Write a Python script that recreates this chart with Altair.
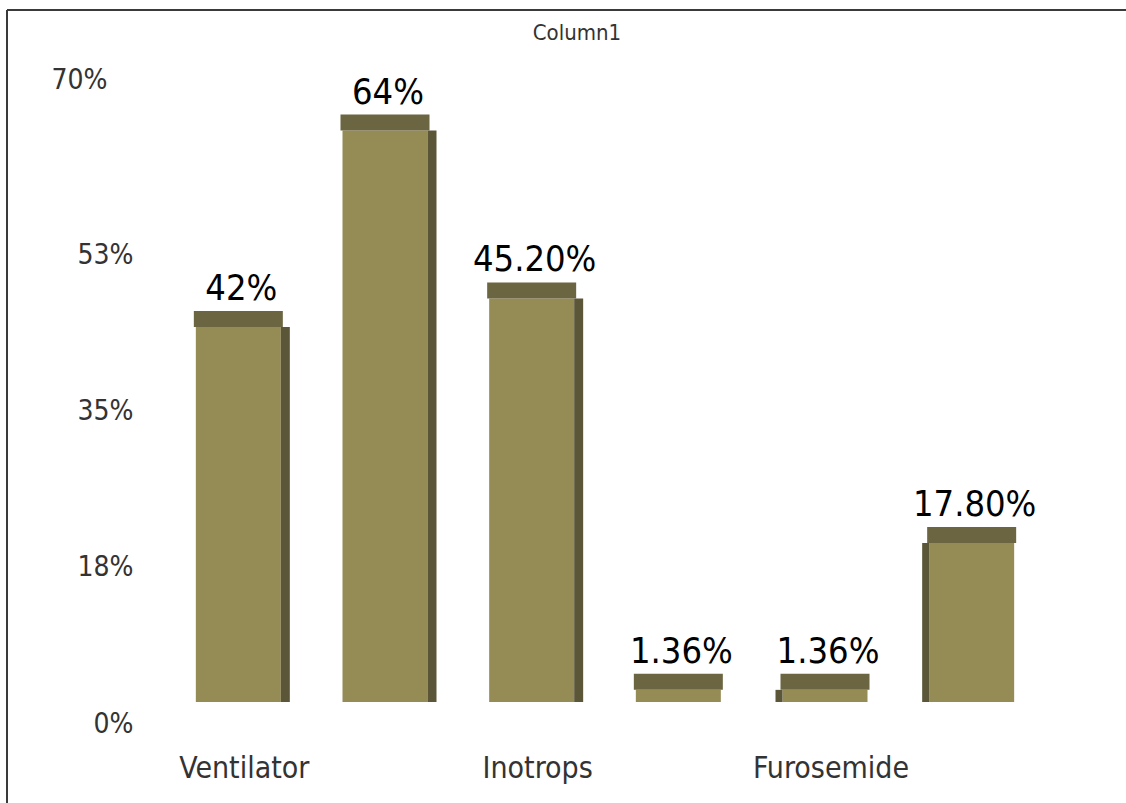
import altair as alt
import pandas as pd

categories = ["Ventilator", " ", "Inotrops", "  ", "Furosemide", "   "]
values = [42.0, 64.0, 45.2, 1.36, 1.36, 17.8]
value_labels = ["42%", "64%", "45.20%", "1.36%", "1.36%", "17.80%"]
y_ticks = [0, 17.5, 35, 52.5, 70]
title_text = "Column1"

df = pd.DataFrame({"category": categories, "value": values, "label": value_labels})

FONT = "DejaVu Sans Condensed, sans-serif"
FRONT = "#958b55"
TOP = "#6c6541"
SIDE = "#5c5639"

x_enc = alt.X(
    "category:N",
    sort=None,
    scale=alt.Scale(paddingInner=0.4, paddingOuter=0.2),
    axis=alt.Axis(
        title=None, labelAngle=0, domain=False, ticks=False,
        labelFont=FONT, labelFontSize=30, labelColor="#333333",
        labelPadding=51, labelOffset=6, labelLimit=0,
    ),
)
y_scale = alt.Scale(domain=[0, 70], nice=False, zero=True)
y_enc = alt.Y(
    "value:Q",
    scale=y_scale,
    axis=alt.Axis(
        title=None, values=y_ticks, domain=False, ticks=False, grid=False,
        labelExpr="format(datum.value, '.0f') + '%'",
        labelFont=FONT, labelFontSize=28, labelColor="#333333",
        labelOffset={"condition": {"test": "datum.value >= 60", "value": 3}, "value": 22},
        labelPadding={"condition": {"test": "datum.value >= 60", "value": 58}, "value": 32},
    ),
)

base = alt.Chart(df)

front = base.mark_bar(width=85, color=FRONT).encode(x=x_enc, y=y_enc, y2=alt.datum(0))

side_right = base.transform_filter(
    alt.FieldOneOfPredicate(field="category", oneOf=categories[:3])
).mark_bar(width=9, color=SIDE, xOffset=47).encode(x=x_enc, y=y_enc, y2=alt.datum(0))

side_left = base.transform_filter(
    alt.FieldOneOfPredicate(field="category", oneOf=categories[4:])
).mark_bar(width=7, color=SIDE, xOffset=-46).encode(x=x_enc, y=y_enc, y2=alt.datum(0))

top_face = base.mark_bar(width=89, color=TOP, y2Offset=-16).encode(
    x=x_enc, y=y_enc, y2=alt.Y2("value:Q")
)

labels = base.mark_text(
    font=FONT, fontSize=36, color="#000000", baseline="alphabetic", dy=-27, dx=3
).encode(x=x_enc, y=y_enc, text="label:N")

frame_top = alt.Chart(df).mark_rule(color="#3a3a3a", strokeWidth=2).encode(
    x=alt.value(-158), x2=alt.value(980), y=alt.value(-67)
)
frame_left = alt.Chart(df).mark_rule(color="#3a3a3a", strokeWidth=2).encode(
    x=alt.value(-158), y=alt.value(-67), y2=alt.value(740)
)

chart = alt.layer(front, side_right, side_left, top_face, labels, frame_top, frame_left).properties(
    width=880,
    height=625,
    padding={"left": 165, "top": 77, "right": 81, "bottom": 101},
    autosize="none",
    title=alt.TitleParams(
        title_text, font=FONT, fontSize=22, fontWeight="normal", color="#333333",
        anchor="middle", dx=-28, offset=0, dy=36,
    ),
).configure(background="white").configure_view(strokeWidth=0, stroke=None)

chart.save("out.html", embed_options={"renderer": "svg", "actions": False})
